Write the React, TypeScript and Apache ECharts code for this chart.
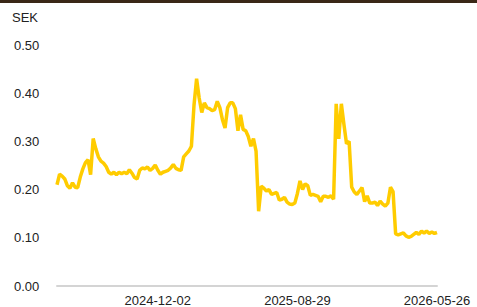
import React, { useEffect, useRef } from "react";
import * as echarts from "echarts";

const startDate = "2024-05-21";
const stepDays = 5;
const labeledDates = ["2024-12-02", "2025-08-29", "2026-05-26"];
const yTicks = [0, 0.1, 0.2, 0.3, 0.4, 0.5];
const unitLabel = "SEK";

const values = [
  0.21, 0.232, 0.228, 0.222, 0.208, 0.203, 0.214, 0.205, 0.204, 0.226,
  0.243, 0.256, 0.262, 0.231, 0.306, 0.285, 0.268, 0.259, 0.255, 0.248,
  0.236, 0.232, 0.236, 0.231, 0.236, 0.233, 0.236, 0.233, 0.241, 0.234,
  0.225, 0.222, 0.24, 0.245, 0.243, 0.247, 0.24, 0.244, 0.251, 0.24,
  0.232, 0.236, 0.238, 0.24, 0.245, 0.252, 0.244, 0.241, 0.24, 0.268,
  0.274, 0.28, 0.29, 0.375, 0.43, 0.39, 0.36, 0.38, 0.37, 0.368,
  0.364, 0.366, 0.383, 0.37, 0.345, 0.328, 0.37, 0.38, 0.38, 0.368,
  0.322, 0.355, 0.325, 0.322, 0.31, 0.29, 0.306, 0.28, 0.155, 0.207,
  0.203, 0.197, 0.2, 0.19, 0.192, 0.194, 0.178, 0.18, 0.184, 0.174,
  0.17, 0.169, 0.172, 0.192, 0.218, 0.2, 0.212, 0.208, 0.188, 0.19,
  0.188, 0.186, 0.175, 0.186, 0.186, 0.184, 0.187, 0.18, 0.378, 0.305,
  0.378, 0.335, 0.295, 0.3, 0.205, 0.195, 0.19, 0.197, 0.204, 0.175,
  0.187, 0.172, 0.172, 0.174, 0.167, 0.176, 0.17, 0.166, 0.172, 0.205,
  0.196, 0.108, 0.106, 0.108, 0.11, 0.104, 0.101, 0.103, 0.107, 0.111,
  0.107, 0.114, 0.11, 0.114, 0.109, 0.112, 0.109, 0.111,
];

function buildDates(start: string, step: number, count: number): string[] {
  const out: string[] = [];
  const t0 = Date.parse(start + "T00:00:00Z");
  for (let i = 0; i < count; i++) {
    out.push(new Date(t0 + i * step * 86400000).toISOString().slice(0, 10));
  }
  return out;
}

const dates = buildDates(startDate, stepDays, values.length);

export default function App() {
  const ref = useRef<HTMLDivElement>(null);
  useEffect(() => {
    if (!ref.current) return;
    const chart = echarts.init(ref.current, undefined, { renderer: "svg" });
    const font = "Liberation Sans, Arial, sans-serif";
    chart.setOption({
      animation: false,
      backgroundColor: "#ffffff",
      grid: { left: 57, right: 40, top: 45, bottom: 20, containLabel: false },
      graphic: [
        { type: "rect", left: 0, top: 0, shape: { width: 477, height: 3 }, style: { fill: "#3a2817" } },
        {
          type: "text",
          left: 12,
          top: 11,
          style: { text: unitLabel, fontSize: 13, fill: "#222", fontFamily: font },
        },
      ],
      xAxis: {
        type: "category",
        data: dates,
        boundaryGap: false,
        axisLine: { show: true, lineStyle: { color: "#d4d4d4", width: 2 } },
        axisTick: { show: false },
        axisLabel: {
          interval: (_idx: number, val: string) => labeledDates.includes(val),
          color: "#222",
          fontSize: 13,
          fontFamily: font,
          margin: 8,
          showMaxLabel: true,
        },
        splitLine: { show: false },
      },
      yAxis: {
        type: "value",
        min: yTicks[0],
        max: yTicks[yTicks.length - 1],
        interval: 0.1,
        axisLine: { show: false },
        axisTick: { show: false },
        splitLine: { show: false },
        axisLabel: {
          formatter: (v: number) => v.toFixed(2),
          align: "left",
          margin: 43,
          color: "#222",
          fontSize: 13,
          fontFamily: font,
        },
      },
      series: [
        {
          type: "line",
          data: values,
          showSymbol: false,
          lineStyle: { color: "#ffcc00", width: 3.5 },
          itemStyle: { color: "#ffcc00" },
        },
      ],
    });
    return () => chart.dispose();
  }, []);
  return <div ref={ref} style={{ width: 477, height: 307, position: "absolute", left: 0, top: 0 }} />;
}
